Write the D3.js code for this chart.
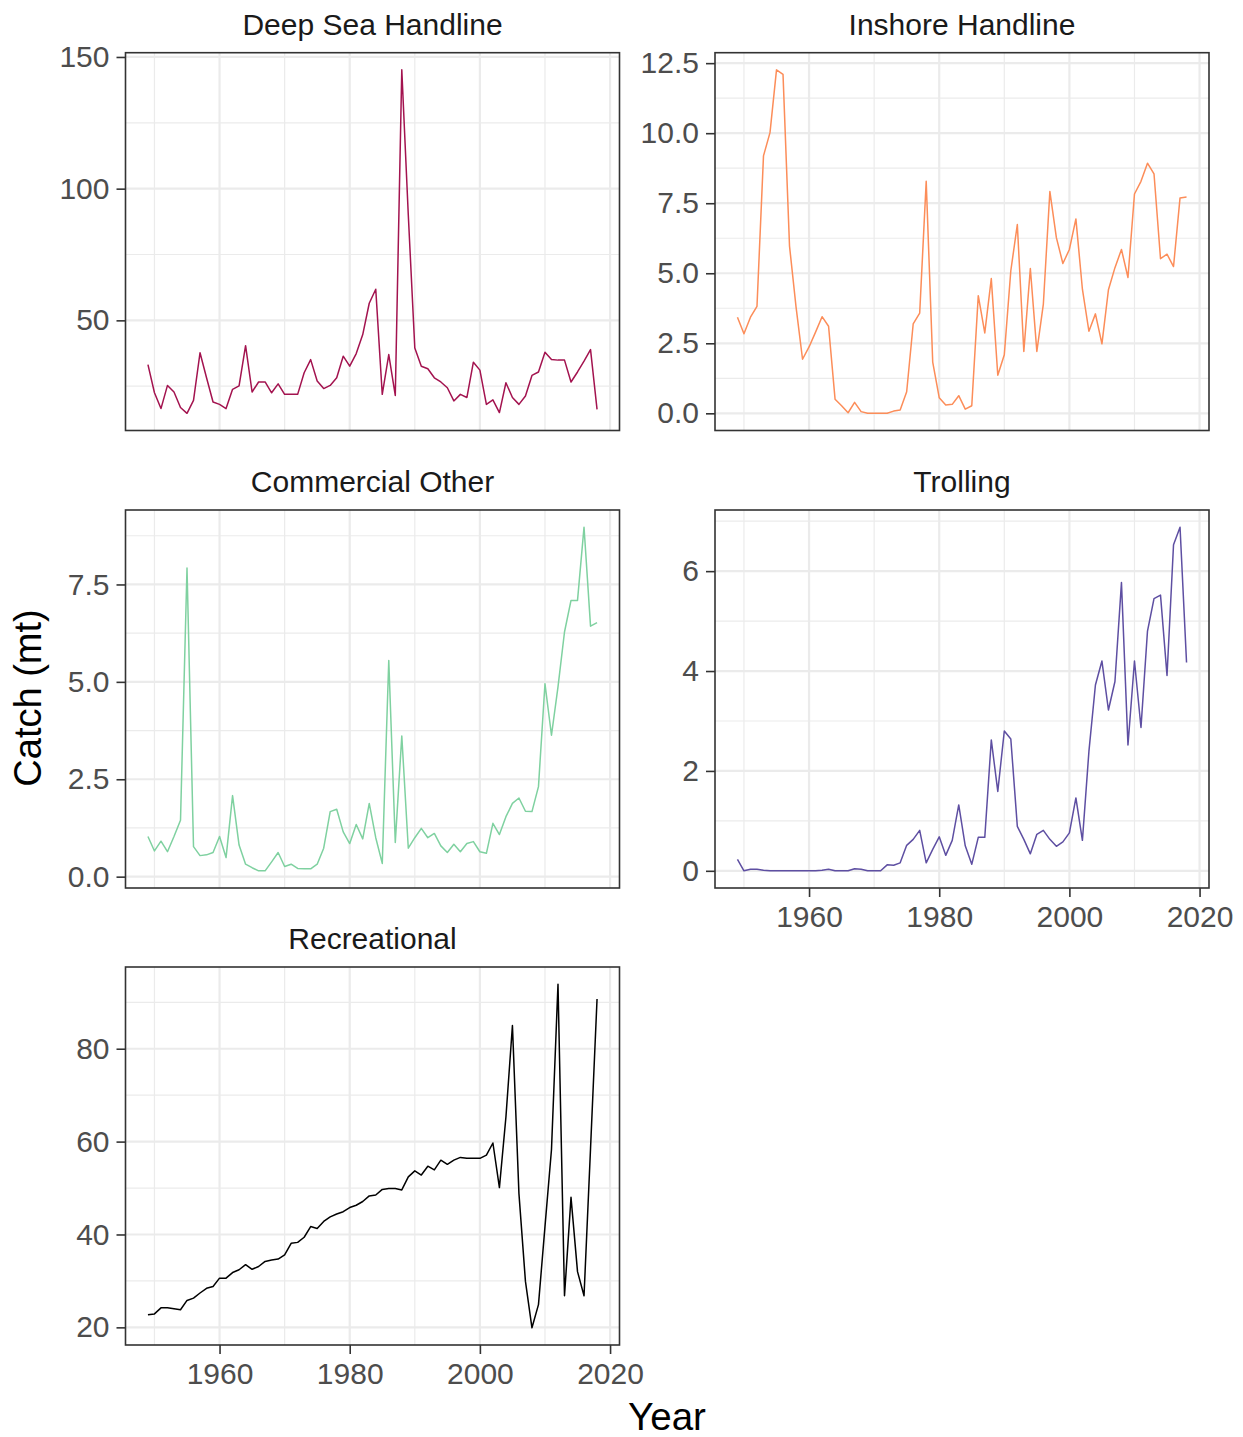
<!DOCTYPE html>
<html><head><meta charset="utf-8">
<script src="https://cdn.jsdelivr.net/npm/d3@7"></script>
<style>
body{margin:0;background:#fff;overflow:hidden}
svg text{font-family:"Liberation Sans",Arial,sans-serif}
</style>
</head><body>
<svg id="chart" width="1243" height="1437"></svg>
<script>
// ---------------- DATA ----------------
const years = [1949,1950,1951,1952,1953,1954,1955,1956,1957,1958,
  1959,1960,1961,1962,1963,1964,1965,1966,1967,1968,
  1969,1970,1971,1972,1973,1974,1975,1976,1977,1978,
  1979,1980,1981,1982,1983,1984,1985,1986,1987,1988,
  1989,1990,1991,1992,1993,1994,1995,1996,1997,1998,
  1999,2000,2001,2002,2003,2004,2005,2006,2007,2008,
  2009,2010,2011,2012,2013,2014,2015,2016,2017,2018];

const panelNames = ["Deep Sea Handline","Inshore Handline","Commercial Other","Trolling","Recreational"];

const deepSeaHandline = [33.2,22.5,16.5,25.3,22.8,16.9,14.7,19.6,37.7,28.2,
  19.0,18.1,16.5,23.8,25.1,40.4,22.8,26.6,26.6,22.5,
  25.9,21.9,21.9,21.9,30.1,35.1,27.0,24.1,25.3,28.2,
  36.4,32.6,37.4,44.6,56.5,61.8,21.9,37.0,21.5,145.1,
  90.0,39.5,32.6,31.6,28.2,26.6,24.4,19.4,21.9,20.7,
  34.1,31.1,18.1,19.8,15.0,26.3,20.7,18.1,21.3,29.1,
  30.4,37.9,35.1,34.9,34.9,26.6,30.4,34.5,38.9,16.2];

const inshoreHandline = [3.43,2.84,3.43,3.82,9.19,10.02,12.26,12.10,5.97,3.8,
  1.93,2.37,2.90,3.45,3.11,0.50,0.27,0.02,0.39,0.06,
  0,0,0,0,0.08,0.12,0.77,3.19,3.58,8.28,
  1.83,0.56,0.30,0.32,0.63,0.15,0.27,4.20,2.87,4.81,
  1.36,2.09,5.09,6.74,2.21,5.17,2.21,3.90,7.92,6.27,
  5.35,5.85,6.94,4.43,2.93,3.55,2.48,4.41,5.20,5.85,
  4.85,7.83,8.28,8.93,8.55,5.52,5.68,5.24,7.69,7.72];

const commercialOther = [1.03,0.66,0.91,0.64,1.03,1.45,7.92,0.77,0.54,0.56,
  0.62,1.03,0.49,2.08,0.81,0.32,0.23,0.15,0.15,0.38,
  0.62,0.26,0.32,0.21,0.20,0.20,0.32,0.73,1.67,1.73,
  1.15,0.85,1.34,0.97,1.88,1.0,0.34,5.55,0.88,3.61,
  0.73,1.00,1.24,1.00,1.11,0.79,0.62,0.83,0.64,0.85,
  0.90,0.64,0.60,1.37,1.08,1.54,1.88,2.02,1.68,1.67,
  2.31,4.95,3.63,4.87,6.28,7.09,7.09,8.97,6.43,6.52];

const trolling = [0.23,0,0.03,0.03,0.01,0,0,0,0,0,
  0,0,0,0.01,0.03,0,0,0,0.04,0.03,
  0,0,0,0.12,0.11,0.16,0.51,0.63,0.81,0.16,
  0.43,0.68,0.31,0.61,1.32,0.50,0.13,0.67,0.67,2.62,
  1.59,2.80,2.64,0.89,0.63,0.34,0.73,0.81,0.63,0.49,
  0.58,0.76,1.46,0.61,2.39,3.72,4.20,3.22,3.79,5.77,
  2.52,4.20,2.87,4.80,5.45,5.52,3.91,6.53,6.88,4.17];

const recreational = [22.7,22.9,24.2,24.2,24.0,23.8,25.8,26.3,27.4,28.4,
  28.8,30.6,30.6,31.8,32.4,33.5,32.5,33.1,34.2,34.5,
  34.7,35.6,38.1,38.3,39.4,41.7,41.3,42.8,43.8,44.4,
  44.9,45.8,46.3,47.1,48.3,48.5,49.7,49.9,49.9,49.6,
  52.4,53.7,52.8,54.7,53.9,56.0,55.1,56.0,56.6,56.4,
  56.4,56.4,57.1,59.7,50.1,65.3,85.0,48.8,29.9,19.9,
  24.9,41.7,58.3,93.9,26.8,48.0,32.0,26.8,58.5,90.7];

const xTickValues = [1960,1980,2000,2020];
const xMinorValues = [1950,1970,1990,2010];
const yTicksDeepSea = [50,100,150];
const yTicksInshore = [0,2.5,5,7.5,10,12.5];
const yTicksCommercial = [0,2.5,5,7.5];
const yTicksTrolling = [0,2,4,6];
const yTicksRecreational = [20,40,60,80];

const seriesColors = ["#A3134F","#FC8D59","#7FD1A0","#5E4FA2","#000000"];

// ---------------- LAYOUT ----------------
const svg = d3.select("#chart");
svg.append("rect").attr("width",1243).attr("height",1437).attr("fill","#fff");

const cols = [[125.5,619.5],[715,1209]];
const rows = [[52.7,430.5],[510,888],[967,1345]];
const FONT = '"Liberation Sans",Arial,sans-serif';

const panels = [
  {name:panelNames[0], values:deepSeaHandline, color:seriesColors[0], ticks:yTicksDeepSea, fmt:d3.format("d"), col:0,row:0, showX:false},
  {name:panelNames[1], values:inshoreHandline, color:seriesColors[1], ticks:yTicksInshore, fmt:d3.format(".1f"), col:1,row:0, showX:false},
  {name:panelNames[2], values:commercialOther, color:seriesColors[2], ticks:yTicksCommercial, fmt:d3.format(".1f"), col:0,row:1, showX:false},
  {name:panelNames[3], values:trolling, color:seriesColors[3], ticks:yTicksTrolling, fmt:d3.format("d"), col:1,row:1, showX:true},
  {name:panelNames[4], values:recreational, color:seriesColors[4], ticks:yTicksRecreational, fmt:d3.format("d"), col:0,row:2, showX:true}
];

const xExt = d3.extent(years);
const xPad = (xExt[1]-xExt[0])*0.05;

panels.forEach(p => {
  const [x0,x1] = cols[p.col];
  const [y0,y1] = rows[p.row];
  const x = d3.scaleLinear().domain([xExt[0]-xPad, xExt[1]+xPad]).range([x0,x1]);
  const ext = d3.extent(p.values);
  const pad = (ext[1]-ext[0])*0.05;
  const y = d3.scaleLinear().domain([ext[0]-pad, ext[1]+pad]).range([y1,y0]);

  const step = p.ticks[1]-p.ticks[0];
  const yMinor = [];
  for (let v = p.ticks[0]-step/2; v <= p.ticks[p.ticks.length-1]+step/2+1e-9; v += step) {
    if (v >= y.domain()[0] && v <= y.domain()[1]) yMinor.push(v);
  }

  const g = svg.append("g");
  g.append("rect").attr("x",x0).attr("y",y0).attr("width",x1-x0).attr("height",y1-y0).attr("fill","#fff");

  g.selectAll(".ymin").data(yMinor).enter().append("line")
    .attr("x1",x0).attr("x2",x1).attr("y1",d=>y(d)).attr("y2",d=>y(d))
    .attr("stroke","#EBEBEB").attr("stroke-width",1.2);
  g.selectAll(".xmin").data(xMinorValues).enter().append("line")
    .attr("y1",y0).attr("y2",y1).attr("x1",d=>x(d)).attr("x2",d=>x(d))
    .attr("stroke","#EBEBEB").attr("stroke-width",1.2);
  g.selectAll(".ymaj").data(p.ticks).enter().append("line")
    .attr("x1",x0).attr("x2",x1).attr("y1",d=>y(d)).attr("y2",d=>y(d))
    .attr("stroke","#EBEBEB").attr("stroke-width",2.2);
  g.selectAll(".xmaj").data(xTickValues).enter().append("line")
    .attr("y1",y0).attr("y2",y1).attr("x1",d=>x(d)).attr("x2",d=>x(d))
    .attr("stroke","#EBEBEB").attr("stroke-width",2.2);

  const line = d3.line().x((d,i)=>x(years[i])).y(d=>y(d));
  g.append("path").datum(p.values).attr("d",line)
    .attr("fill","none").attr("stroke",p.color).attr("stroke-width",1.5)
    .attr("stroke-linejoin","round");

  g.append("rect").attr("x",x0).attr("y",y0).attr("width",x1-x0).attr("height",y1-y0)
    .attr("fill","none").attr("stroke","#333333").attr("stroke-width",1.6);

  const ya = g.append("g").attr("transform",`translate(${x0},0)`)
    .call(d3.axisLeft(y).tickValues(p.ticks).tickFormat(p.fmt).tickSize(9).tickPadding(7));
  ya.select(".domain").remove();
  ya.selectAll(".tick line").attr("stroke","#333333").attr("stroke-width",1.6);
  ya.selectAll(".tick text").attr("fill","#4D4D4D").style("font-size","30px").style("font-family",FONT);

  if (p.showX) {
    const xa = g.append("g").attr("transform",`translate(0,${y1})`)
      .call(d3.axisBottom(x).tickValues(xTickValues).tickFormat(d3.format("d")).tickSize(9).tickPadding(9));
    xa.select(".domain").remove();
    xa.selectAll(".tick line").attr("stroke","#333333").attr("stroke-width",1.6);
    xa.selectAll(".tick text").attr("fill","#4D4D4D").style("font-size","30px").style("font-family",FONT);
  }

  g.append("text").attr("x",(x0+x1)/2).attr("y",y0-18).attr("text-anchor","middle")
    .attr("fill","#1A1A1A").style("font-size","30px").text(p.name);
});

svg.append("text").attr("x",667).attr("y",1430).attr("text-anchor","middle")
  .attr("fill","#000").style("font-size","38.5px").text("Year");
svg.append("text").attr("transform","translate(41,698) rotate(-90)").attr("text-anchor","middle")
  .attr("fill","#000").style("font-size","38px").text("Catch (mt)");
</script>
</body></html>
